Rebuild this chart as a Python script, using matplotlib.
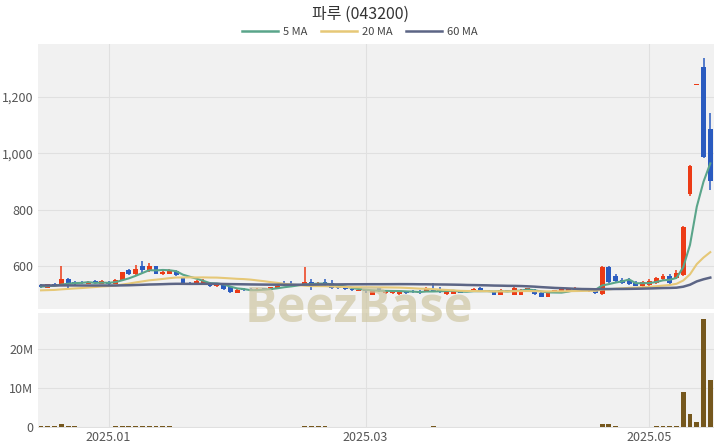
import matplotlib
matplotlib.use("Agg")
import matplotlib.pyplot as plt
import numpy as np
import pandas as pd
from matplotlib.lines import Line2D
from matplotlib.ticker import FuncFormatter

plt.rcParams['font.family'] = ['Noto Sans CJK KR', 'DejaVu Sans']

title = "파루 (043200)"
holidays = ['2024-12-25', '2024-12-31', '2025-01-01', '2025-01-27', '2025-01-28',
            '2025-01-29', '2025-01-30', '2025-03-03', '2025-05-01', '2025-05-05', '2025-05-06']
tick_labels = ["2025.01", "2025.03", "2025.05"]

# closes before the visible window (implied by where the moving averages start)
prior_closes = [545, 548, 541, 538, 544, 550, 546, 540, 537, 542,
                548, 552, 545, 539, 536, 541, 544, 538, 535, 540,
                543, 547, 541, 536, 534, 539, 542, 537, 533, 538,
                541, 536, 532, 535, 540, 538, 534, 531, 536, 533,
                520, 516, 512, 508, 505, 510, 507, 503, 506, 511,
                509, 505, 502, 508, 512, 524, 527, 529, 526]

opens = [533, 523, 537, 531, 553, 543, 542, 537, 546, 537,
         542, 537, 551, 584, 570, 598, 583, 598, 571, 572,
         582, 556, 541, 538, 535, 541, 527, 533, 524, 505,
         518, 518, 513, 521, 516, 522, 535, 536, 533, 533,
         543, 535, 544, 538, 522, 521, 518, 512, 516, 498,
         520, 504, 504, 500, 510, 512, 512, 512, 518, 516,
         500, 502, 510, 514, 510, 522, 513, 506, 498, 512,
         498, 498, 510, 515, 505, 490, 512, 508, 512, 510,
         512, 511, 514, 500, 597, 563, 549, 550, 540, 528,
         532, 540, 552, 565, 558, 568, 856, 1241, 1305, 1085]
highs = [536, 537, 540, 600, 556, 548, 547, 548, 549, 549,
         545, 553, 580, 590, 602, 617, 612, 600, 585, 590,
         585, 558, 543, 550, 552, 543, 537, 535, 526, 518,
         521, 520, 521, 523, 526, 532, 545, 545, 537, 595,
         553, 544, 552, 550, 526, 524, 520, 516, 518, 511,
         522, 514, 514, 512, 512, 514, 514, 526, 538, 524,
         512, 512, 512, 516, 520, 524, 516, 508, 518, 514,
         525, 518, 522, 517, 506, 506, 516, 521, 520, 524,
         519, 520, 516, 600, 600, 570, 557, 556, 545, 548,
         553, 562, 572, 572, 585, 740, 958, 1241, 1337, 1142]
lows = [520, 521, 530, 528, 518, 532, 535, 535, 536, 535,
        533, 535, 549, 568, 568, 575, 580, 570, 568, 570,
        565, 535, 535, 536, 533, 524, 525, 515, 505, 503,
        512, 512, 511, 515, 514, 520, 528, 530, 528, 530,
        515, 532, 528, 518, 518, 515, 512, 510, 503, 496,
        508, 502, 502, 498, 502, 504, 502, 510, 506, 505,
        498, 500, 503, 506, 508, 508, 509, 496, 496, 509,
        496, 496, 508, 498, 488, 488, 509, 506, 510, 508,
        510, 509, 501, 498, 540, 542, 536, 532, 528, 525,
        528, 536, 548, 536, 555, 565, 848, 1241, 982, 870]
closes = [525, 535, 531, 552, 540, 538, 538, 544, 538, 545,
          535, 550, 577, 572, 590, 585, 600, 573, 580, 585,
          568, 538, 537, 546, 546, 527, 534, 518, 508, 514,
          515, 514, 519, 517, 524, 530, 532, 533, 534, 543,
          535, 541, 533, 522, 521, 518, 514, 514, 511, 510,
          510, 512, 512, 510, 504, 506, 504, 522, 510, 508,
          510, 510, 505, 508, 518, 510, 511, 498, 516, 511,
          520, 516, 520, 500, 490, 504, 514, 518, 518, 518,
          517, 518, 503, 597, 542, 545, 540, 535, 530, 543,
          548, 558, 565, 540, 576, 738, 955, 1241, 986, 900]
volumes = [0.06, 0.08, 0.06, 0.80, 0.20, 0.06, 0.05, 0.05, 0.04, 0.05,
           0.04, 0.06, 0.10, 0.08, 0.10, 0.12, 0.10, 0.08, 0.06, 0.06,
           0.05, 0.05, 0.04, 0.04, 0.04, 0.04, 0.03, 0.04, 0.04, 0.04,
           0.03, 0.03, 0.03, 0.03, 0.04, 0.04, 0.05, 0.05, 0.04, 0.30,
           0.12, 0.06, 0.06, 0.05, 0.04, 0.03, 0.03, 0.03, 0.03, 0.03,
           0.03, 0.03, 0.04, 0.03, 0.03, 0.03, 0.03, 0.05, 0.07, 0.05,
           0.03, 0.03, 0.03, 0.03, 0.04, 0.03, 0.03, 0.03, 0.03, 0.03,
           0.04, 0.03, 0.03, 0.03, 0.04, 0.03, 0.03, 0.03, 0.03, 0.03,
           0.03, 0.03, 0.04, 0.70, 0.60, 0.10, 0.05, 0.05, 0.04, 0.05,
           0.05, 0.07, 0.08, 0.07, 0.30, 8.9, 3.2, 1.1, 27.7, 11.9]

dates = pd.bdate_range('2024-12-16', '2025-05-19')
dates = dates[~dates.isin(pd.to_datetime(holidays))]
n = len(closes)
x = np.arange(n)

df = pd.DataFrame({'o': opens, 'h': highs, 'l': lows, 'c': closes, 'v': volumes}, index=dates[:n])
all_c = pd.Series(prior_closes + closes, dtype=float)
k = len(prior_closes)
ma5 = all_c.rolling(5, min_periods=1).mean().values[k:]
ma20 = all_c.rolling(20, min_periods=1).mean().values[k:]
ma60 = all_c.rolling(60, min_periods=1).mean().values[k:]

UP = '#ec3b16'
DOWN = '#2a5bc0'
BG = '#f1f1f1'
GRID = '#e0e0e0'
C5 = '#5aa58a'
C20 = '#e6c877'
C60 = '#5c6585'
VOLC = '#75571d'

fig = plt.figure(figsize=(7.2, 4.48), dpi=100)
ax = fig.add_axes([38/720, 1-309/448, 676/720, 265/448])
axv = fig.add_axes([38/720, 1-428/448, 676/720, 115/448], sharex=ax)

for a in (ax, axv):
    a.set_facecolor(BG)
    for s in a.spines.values():
        s.set_visible(False)
    a.tick_params(length=0, labelsize=9, labelcolor='#555555')
    a.grid(True, color=GRID, linewidth=0.8)
    a.set_axisbelow(True)

# candles
o = np.array(opens, float); c = np.array(closes, float)
h = np.array(highs, float); l = np.array(lows, float)
colors = [UP if ci >= oi else DOWN for oi, ci in zip(o, c)]
ax.vlines(x, l, h, colors=colors, linewidth=1.1, zorder=3)
body_bot = np.minimum(o, c)
body_h = np.maximum(np.abs(c - o), 4.0)
ax.bar(x, body_h, bottom=body_bot, width=0.72, color=colors, linewidth=0, zorder=4)

ax.plot(x, ma5, color=C5, linewidth=1.5, zorder=5)
ax.plot(x, ma20, color=C20, linewidth=1.5, zorder=5)
ax.plot(x, ma60, color=C60, linewidth=1.8, zorder=5)

ax.set_ylim(447, 1388)
ax.set_yticks([600, 800, 1000, 1200])
ax.yaxis.set_major_formatter(FuncFormatter(lambda v, p: f"{int(v):,}"))

axv.bar(x, volumes, width=0.72, color=VOLC, zorder=3)
axv.set_ylim(-0.33, 29.15)
axv.set_yticks([0, 10, 20])
axv.yaxis.set_major_formatter(FuncFormatter(lambda v, p: "0" if v == 0 else f"{int(v)}M"))

tick_pos = []
for lab in tick_labels:
    y_, m_ = lab.split('.')
    mask = (df.index.year == int(y_)) & (df.index.month == int(m_))
    tick_pos.append(int(np.argmax(mask)))
axv.set_xticks(tick_pos)
axv.set_xticklabels(tick_labels)
plt.setp(ax.get_xticklabels(), visible=False)
axv.tick_params(axis='x', pad=2)
ax.set_xlim(-0.45, n - 0.45)

fig.text(0.5, 1-14/448, title, ha='center', va='center', fontsize=11.5, color='#333333')
handles = [Line2D([], [], color=C5, lw=1.8), Line2D([], [], color=C20, lw=1.8), Line2D([], [], color=C60, lw=1.8)]
fig.legend(handles, ['5 MA', '20 MA', '60 MA'], loc='center', bbox_to_anchor=(0.5, 1-32/448),
           ncol=3, frameon=False, fontsize=8, handlelength=3.2, handletextpad=0.5,
           columnspacing=1.2, labelcolor='#444444')

fig.text(358.5/720, 1-310/448, "BeezBase", ha='center', va='center', fontsize=35,
         fontweight='bold', family=['Open Sans', 'DejaVu Sans'], color='#cfc7a3', alpha=0.7, zorder=10)

fig.savefig('out.png', dpi=100, facecolor='white')
